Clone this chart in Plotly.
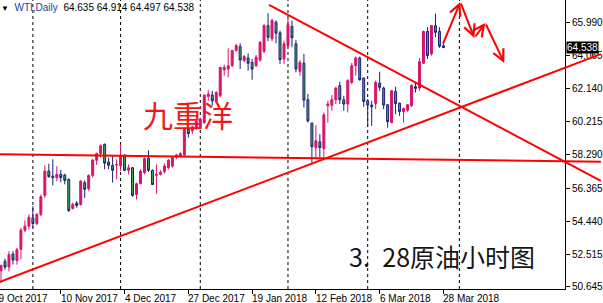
import plotly.graph_objects as go

# ---------------- data ----------------
opens = [51.56, 52.11, 51.77, 52.53, 52.15, 52.80, 53.91, 54.15, 54.63, 54.30,
         54.83, 55.94, 57.35, 57.06, 56.97, 57.16, 57.12, 56.87, 55.18, 55.49,
         55.41, 56.68, 56.33, 57.10, 57.98, 58.37, 58.91, 57.88, 57.69, 57.70,
         57.65, 58.27, 57.40, 57.55, 55.99, 56.62, 57.26, 58.10, 57.39, 57.10,
         57.16, 57.32, 57.55, 57.64, 58.19, 58.23, 58.29, 59.78, 59.69, 59.82,
         59.88, 60.17, 61.69, 61.77, 61.38, 61.73, 63.23, 63.29, 63.48, 64.36,
         64.59, 63.77, 63.93, 63.67, 63.48, 63.81, 64.32, 65.81, 65.04, 66.01,
         65.39, 63.87, 64.65, 65.76, 64.75, 63.15, 63.62, 61.50, 60.14, 58.72,
         59.05, 58.66, 61.15, 61.18, 61.50, 62.32, 61.50, 61.25, 62.51, 63.48,
         63.93, 62.76, 61.44, 61.19, 61.28, 62.47, 62.18, 61.21, 60.17, 61.98,
         61.30, 60.80, 60.89, 61.15, 62.26, 62.18, 63.62, 65.47, 64.16, 65.81,
         65.47, 64.635]
highs = [51.90, 52.26, 52.69, 52.69, 52.88, 54.05, 54.48, 54.83, 55.31, 54.92,
         55.99, 57.69, 57.78, 58.04, 57.63, 57.42, 57.20, 56.93, 55.51, 55.61,
         56.81, 56.81, 57.16, 58.04, 58.43, 58.91, 58.95, 58.14, 58.23, 58.04,
         58.91, 58.33, 57.74, 57.59, 56.68, 57.46, 58.14, 58.56, 57.45, 57.74,
         57.40, 57.80, 58.05, 58.20, 58.35, 58.45, 59.90, 59.95, 60.00, 60.30,
         60.45, 61.80, 62.06, 62.02, 62.00, 63.40, 63.54, 64.49, 64.40, 64.75,
         64.78, 64.10, 64.20, 63.87, 64.10, 64.90, 65.90, 66.53, 66.20, 66.11,
         65.52, 64.94, 66.20, 66.11, 64.98, 63.80, 64.16, 61.83, 60.17, 60.02,
         59.50, 60.76, 61.44, 61.77, 62.26, 62.55, 61.73, 62.70, 63.64, 64.01,
         64.01, 62.80, 61.54, 61.44, 62.61, 63.13, 62.26, 61.25, 62.06, 62.26,
         61.34, 61.05, 61.25, 62.41, 62.51, 63.93, 65.52, 65.72, 65.85, 66.50,
         65.72, 64.914]
lows = [50.84, 51.62, 51.52, 51.91, 51.91, 52.22, 53.81, 53.95, 54.05, 54.20,
        54.73, 55.80, 56.97, 56.52, 56.77, 56.71, 56.58, 54.98, 55.12, 55.22,
        55.35, 55.80, 56.19, 56.97, 57.71, 58.14, 57.46, 57.46, 56.68, 56.87,
        57.35, 57.35, 57.16, 55.86, 55.70, 56.58, 57.16, 57.30, 56.55, 56.03,
        57.10, 57.20, 57.45, 57.55, 58.05, 58.15, 58.20, 59.30, 59.50, 59.75,
        59.80, 60.10, 61.44, 61.15, 61.30, 61.65, 62.90, 62.80, 63.40, 64.30,
        63.29, 63.70, 63.19, 62.66, 63.40, 63.70, 64.20, 64.90, 64.90, 64.78,
        63.58, 63.58, 64.55, 64.55, 63.09, 62.90, 61.05, 60.17, 57.84, 58.13,
        58.13, 58.13, 60.17, 60.86, 61.25, 61.25, 60.86, 60.76, 62.41, 62.90,
        62.61, 61.09, 59.94, 59.98, 60.95, 62.02, 60.95, 59.88, 60.14, 60.66,
        60.56, 60.17, 60.80, 61.09, 61.92, 62.02, 63.58, 63.87, 64.06, 65.13,
        64.51, 64.497]
closes = [51.87, 51.77, 52.49, 52.18, 52.78, 53.91, 54.15, 54.67, 54.30, 54.83,
          55.86, 57.35, 57.03, 56.97, 57.16, 56.97, 56.81, 55.06, 55.41, 55.35,
          56.77, 56.29, 57.10, 58.00, 58.37, 58.82, 57.81, 57.69, 57.40, 57.74,
          58.23, 57.40, 57.55, 55.94, 56.62, 57.35, 58.08, 57.40, 56.57, 57.16,
          57.29, 57.65, 57.98, 58.13, 58.29, 58.37, 59.82, 59.53, 59.92, 60.23,
          60.37, 61.77, 61.83, 61.44, 61.92, 63.38, 63.38, 63.48, 64.36, 64.65,
          63.81, 64.01, 63.62, 63.29, 63.97, 64.84, 65.81, 65.13, 66.11, 65.37,
          63.83, 64.75, 65.87, 65.10, 63.29, 63.67, 61.48, 60.27, 58.77, 59.11,
          58.72, 60.62, 61.25, 61.50, 62.18, 61.50, 61.25, 62.61, 63.48, 63.93,
          62.66, 61.40, 61.19, 61.09, 62.51, 62.22, 61.19, 60.23, 62.02, 61.28,
          60.82, 60.99, 61.21, 62.32, 62.16, 63.71, 65.47, 64.06, 65.81, 65.42,
          64.61, 64.538]

# bar index of each date label and its text
date_ticks = [-1, 15, 31, 47, 63, 79, 95, 111]
date_texts = ["19 Oct 2017", "10 Nov 2017", "4 Dec 2017", "27 Dec 2017",
              "19 Jan 2018", "12 Feb 2018", "6 Mar 2018", "28 Mar 2018"]
# month separators (bar index)
month_starts = [8, 30, 50, 72, 92, 115]

price_ticks = [65.990, 64.065, 62.140, 60.215, 58.290, 56.365, 54.440, 52.515, 50.645]
price_texts = ["65.990", "64.065", "62.140", "60.215", "58.290", "56.365",
               "54.440", "52.515", "50.645"]

# hand-drawn trend lines: (bar, price) -> (bar, price)
trend_lines = [
    ((-0.25, 58.33), (150.5, 57.90)),   # horizontal support
    ((-0.25, 50.92), (150.5, 64.15)),   # rising support
    ((67.25, 67.01), (150.5, 56.78)),   # falling resistance
]
# zig-zag forecast arrow path
zigzag = [(110.75, 64.68), (115.25, 67.18), (118.75, 65.09), (121.5, 65.96), (126.25, 63.64)]

last_price = 64.538

# ---------------- figure ----------------
x = list(range(len(opens)))
X0, X1 = -0.25, 141.5
Y0, Y1 = 50.496, 67.298

def xpaper(b):
    return (b - X0) / (X1 - X0)

BULL = "#D8146A"
BEAR_FILL = "#3FAE4A"
BEAR_LINE = "#1B1F78"

fig = go.Figure(go.Candlestick(
    x=x, open=opens, high=highs, low=lows, close=closes,
    increasing=dict(line=dict(color=BULL, width=1), fillcolor=BULL),
    decreasing=dict(line=dict(color=BEAR_LINE, width=1), fillcolor=BEAR_FILL),
    whiskerwidth=0, hoverinfo="skip", showlegend=False,
))

shapes = []
for m in month_starts:
    shapes.append(dict(type="line", xref="x", yref="paper", x0=m, x1=m, y0=0, y1=1,
                       line=dict(color="black", width=1, dash="3px,3px"), layer="below"))
for (b0, p0), (b1, p1) in trend_lines:
    shapes.append(dict(type="line", xref="paper", yref="y",
                       x0=xpaper(b0), y0=p0, x1=xpaper(b1), y1=p1,
                       line=dict(color="#FF0000", width=2), layer="above"))

annotations = []
for b, t in zip(date_ticks, date_texts):
    annotations.append(dict(xref="paper", yref="paper", x=xpaper(b), y=0,
                            xanchor="left", yanchor="top", yshift=-2,
                            xshift=-6 if b < 0 else -2,
                            text=t, showarrow=False,
                            font=dict(family="Liberation Sans", size=10, color="black")))
for (ta, pa), (tb, pb) in zip(zigzag[:-1], zigzag[1:]):
    annotations.append(dict(x=tb, y=pb, ax=ta, ay=pa, xref="x", yref="y",
                            axref="x", ayref="y", text="", showarrow=True,
                            arrowhead=5, arrowsize=1.1, arrowwidth=2,
                            arrowcolor="#FF0000", standoff=0, startstandoff=0))

annotations.append(dict(xref="paper", yref="paper", x=0, y=1, xanchor="left", yanchor="top",
                        xshift=-1, yshift=0, showarrow=False,
                        text="<span style='font-size:8px'>▼</span>\u00a0\u00a0"
                             "<span style='color:#1f3c96'>WTI,Daily</span>\u00a0\u00a064.635 64.914 64.497 64.538",
                        font=dict(family="Liberation Sans", size=10, color="black")))
annotations.append(dict(xref="paper", yref="y", x=1, y=last_price, xanchor="left",
                        yanchor="middle", xshift=1, showarrow=False,
                        text=f"{last_price:.3f}", bgcolor="black", borderpad=0,
                        font=dict(family="Liberation Sans", size=10, color="white")))
annotations.append(dict(xref="x", yref="y", x=47, y=60.67, showarrow=False,
                        text="九重洋",
                        font=dict(family="Noto Sans CJK SC", size=30, color="#F01818")))
annotations.append(dict(xref="x", yref="y", x=110.75, y=52.41, showarrow=False,
                        text="3.\u200228原油小时图",
                        font=dict(family="Noto Sans CJK SC", size=25, color="#151515")))

fig.update_layout(
    width=603, height=303,
    margin=dict(l=0, r=36, t=0, b=14, pad=0),
    paper_bgcolor="white", plot_bgcolor="white",
    shapes=shapes, annotations=annotations,
    showlegend=False,
    xaxis=dict(range=[X0, X1], rangeslider=dict(visible=False), showgrid=False,
               zeroline=False, showline=True, linecolor="black", linewidth=1,
               ticks="outside", ticklen=4, tickcolor="black", tickvals=date_ticks,
               showticklabels=False, fixedrange=True),
    yaxis=dict(range=[Y0, Y1], side="right", showgrid=False, zeroline=False,
               showline=True, linecolor="black", linewidth=1,
               ticks="outside", ticklen=4, tickcolor="black",
               tickvals=price_ticks, ticktext=price_texts,
               tickfont=dict(family="Liberation Sans", size=10, color="black"),
               fixedrange=True),
)

fig.write_html("out.html")
